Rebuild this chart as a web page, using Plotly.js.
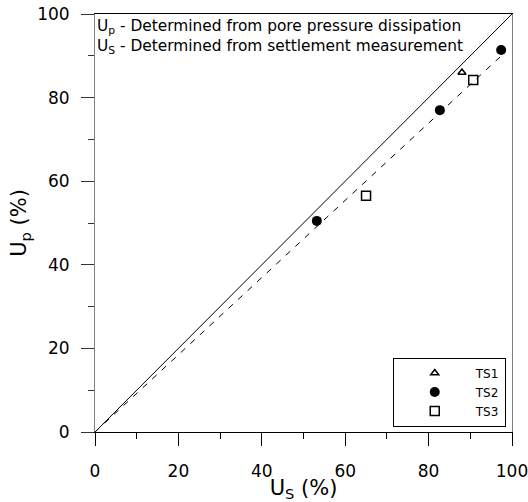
<!DOCTYPE html>
<html>
<head>
<meta charset="utf-8">
<script src="https://cdn.plot.ly/plotly-3.0.1.min.js"></script>
<style>html,body{margin:0;padding:0;background:#fff;}#chart{width:528px;height:502px;}</style>
</head>
<body>
<div id="chart"></div>
<script>
// Data
const seriesNames = ["TS1", "TS2", "TS3"];
const ts1_Us = [88];
const ts1_Up = [86];
const ts2_Us = [53.2, 82.7, 97.4];
const ts2_Up = [50.5, 77.0, 91.4];
const ts3_Us = [65.0, 90.7];
const ts3_Up = [56.5, 84.2];
const equalityX = [0, 100];
const equalityY = [0, 100];
const fitX = [0, 98.3];
const fitY = [0, 90.8];
const tickVals = [0, 20, 40, 60, 80, 100];
const noteLines = ["U<sub>p</sub> - Determined from pore pressure dissipation",
                   "U<sub>S</sub> - Determined from settlement measurement"];

const FONT = '"DejaVu Sans", "Liberation Sans", Arial, sans-serif';

const traces = [
  {x: equalityX, y: equalityY, mode: "lines", line: {color: "#000", width: 1}, showlegend: false, hoverinfo: "skip"},
  {x: fitX, y: fitY, mode: "lines", line: {color: "#000", width: 1, dash: "6px,7px"}, showlegend: false, hoverinfo: "skip"},
  {x: ts1_Us, y: ts1_Up, name: seriesNames[0], mode: "markers",
   marker: {symbol: "triangle-up-open", size: 7, color: "#000", line: {width: 1.5, color: "#000"}}},
  {x: ts2_Us, y: ts2_Up, name: seriesNames[1], mode: "markers",
   marker: {symbol: "circle", size: 10, color: "#000"}},
  {x: ts3_Us, y: ts3_Up, name: seriesNames[2], mode: "markers",
   marker: {symbol: "square-open", size: 9, color: "#000", line: {width: 1.5, color: "#000"}}}
];

const layout = {
  width: 528, height: 502,
  margin: {l: 95, r: 16, t: 14, b: 70},
  paper_bgcolor: "#fff", plot_bgcolor: "#fff",
  font: {family: FONT, color: "#000"},
  showlegend: true,
  legend: {
    x: 0.714, xanchor: "left", y: 0.013, yanchor: "bottom",
    bgcolor: "#fff", bordercolor: "#000", borderwidth: 1,
    font: {family: FONT, size: 12, color: "#000"},
    itemwidth: 72
  },
  xaxis: {
    range: [0, 100], tickvals: tickVals, ticktext: tickVals.map(String),
    showgrid: false, zeroline: false,
    showline: true, linecolor: "#000", linewidth: 1, mirror: true,
    ticks: "outside", ticklen: 13, tickwidth: 1, tickcolor: "#000",
    minor: {dtick: 10, ticks: "outside", ticklen: 6, tickwidth: 1, tickcolor: "#000", showgrid: false},
    ticklabelstandoff: 11, ticklabeloverflow: "allow",
    tickfont: {family: FONT, size: 17, color: "#000"},
    title: {text: "U<sub>S</sub> (%)", font: {family: FONT, size: 21, color: "#000"}, standoff: 1},
    fixedrange: true
  },
  yaxis: {
    range: [0, 100], tickvals: tickVals, ticktext: tickVals.map(String),
    showgrid: false, zeroline: false,
    showline: true, linecolor: "#808080", linewidth: 1, mirror: true,
    ticks: "outside", ticklen: 13, tickwidth: 1, tickcolor: "#333",
    minor: {dtick: 10, ticks: "outside", ticklen: 6, tickwidth: 1, tickcolor: "#333", showgrid: false},
    ticklabelstandoff: 8, ticklabeloverflow: "allow",
    tickfont: {family: FONT, size: 17, color: "#000"},
    title: {text: "U<sub>p</sub> (%)", font: {family: FONT, size: 21, color: "#000"}, standoff: 4},
    fixedrange: true
  },
  annotations: [{
    xref: "paper", yref: "paper", x: 0, y: 1, xanchor: "left", yanchor: "top",
    xshift: 0, yshift: -1,
    align: "left", showarrow: false,
    text: noteLines.join("<br>"),
    font: {family: FONT, size: 15.4, color: "#000"}
  }]
};

Plotly.newPlot("chart", traces, layout, {displayModeBar: false, staticPlot: true});
</script>
</body>
</html>
